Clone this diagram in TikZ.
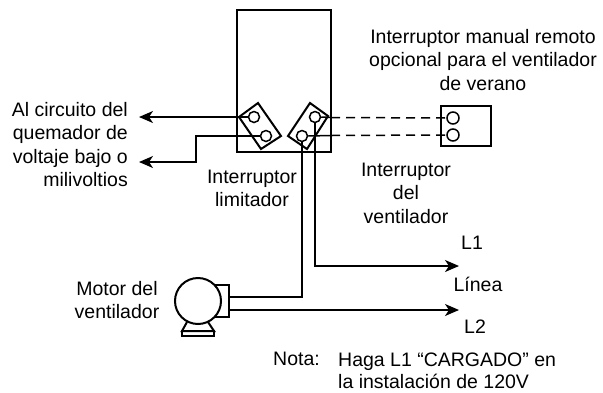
\documentclass[tikz,border=0pt]{standalone}
\usepackage{fontspec}
\setmainfont{Liberation Sans}
\usetikzlibrary{arrows.meta}
\begin{document}
\begin{tikzpicture}[x=1pt,y=-1pt,
  wire/.style={line width=1.5pt,line join=miter},
  arrowwire/.style={wire,-{Stealth[length=14pt,width=12pt,inset=4pt]}},
  dashwire/.style={line width=1.5pt,dash pattern=on 9pt off 6pt},
  thick box/.style={line width=2pt},
  term/.style={circle,draw,line width=1.5pt,minimum size=11pt,inner sep=0pt},
  label/.style={font=\fontsize{19.5pt}{23.5pt}\selectfont,align=center,text=black,inner sep=0pt}]
\useasboundingbox (0,0) rectangle (603,392);
\draw[thick box] (237,10) rectangle (331,152);
\draw[thick box,fill=white] (258,103) -- (281,136) -- (261,149) -- (239,117) -- cycle;
\draw[thick box,fill=white] (310,103) -- (328,116) -- (307,149) -- (288,136) -- cycle;
\node[term] (a1) at (254,117) {};
\node[term] (a2) at (266,136) {};
\node[term] (b1) at (315,117) {};
\node[term] (b2) at (302,136) {};
\node[term,minimum size=12pt] (c1) at (453,118) {};
\node[term,minimum size=12pt] (c2) at (453,135) {};
\coordinate (t1) at (139,117);
\coordinate (t2) at (139,162);
\coordinate (t3) at (459,266);
\coordinate (t4) at (459,310);
\coordinate (d1) at (331,117.5);
\coordinate (d2) at (331,135.5);
\draw[thick box] (441,106) rectangle (491,146);
\draw[arrowwire] (a1.west) -- (a1.west -| t1);
\draw[arrowwire] (a2.west) -- (196,136) -- (196,162) -- (t2);
\draw[wire] (b1.east) -- (d1);
\draw[wire] (b2.east) -- (d2);
\draw[dashwire] (d1) -- (c1.west);
\draw[dashwire] (d2) -- (c2.west);
\draw[wire] (b2.south) -- (302,297) -- (229,297);
\draw[arrowwire] (b1.south) -- (315,266) -- (t3);
% motor
\draw[thick box,fill=white] (205,285) rectangle (229,317);
\draw[arrowwire] (229,310) -- (t4);
\draw[thick box] (187,322) -- (182,331) -- (214,331) -- (208,322);
\draw[thick box] (182,331) rectangle (214,336);
\node[circle,draw,line width=2pt,fill=white,minimum size=46pt,inner sep=0pt] (m) at (198,301) {};
% labels
\node[label,align=right,anchor=east] (n1) at (128,144.5) {Al circuito del\\quemador de\\voltaje bajo o\\milivoltios};
\node[label] (n2) at (252,188.5) {Interruptor\\limitador};
\node[label] (n3) at (406,193) {Interruptor\\del\\ventilador};
\node[label] (n4) at (483,60) {Interruptor manual remoto\\opcional para el ventilador\\de verano};
\node[label] (n5) at (117,300) {Motor del\\ventilador};
\node[label] (n6) at (472,243) {L1};
\node[label] (n7) at (478,284) {Línea};
\node[label] (n8) at (475,327) {L2};
\node[label,anchor=west] (n9) at (273,359) {Nota:};
\node[label,font=\fontsize{19.5pt}{22pt}\selectfont,align=left,anchor=west] (n10) at (338,370.5) {Haga L1 “CARGADO” en\\la instalación de 120V};
\end{tikzpicture}
\end{document}
